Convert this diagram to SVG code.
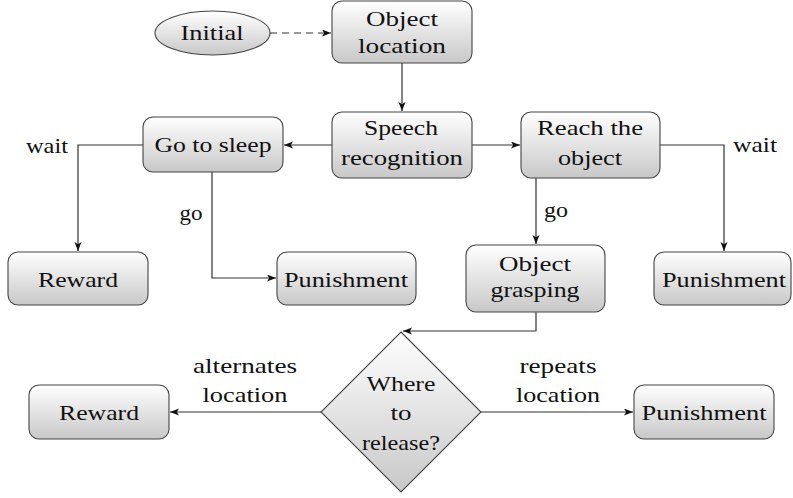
<svg xmlns="http://www.w3.org/2000/svg" width="793" height="498" viewBox="0 0 793 498">
<defs>
<linearGradient id="g" x1="0" y1="0" x2="0" y2="1">
<stop offset="0" stop-color="#ffffff"/>
<stop offset="1" stop-color="#c8c8c8"/>
</linearGradient>
<marker id="arr" markerWidth="10" markerHeight="8" refX="9" refY="3.5" orient="auto" markerUnits="userSpaceOnUse">
<path d="M0,0 L9,3.5 L0,7 L2.2,3.5 z" fill="#111"/>
</marker>
</defs>
<style>
.box{fill:url(#g);stroke:#444;stroke-width:1.1}
.t{font-family:'Liberation Serif','DejaVu Serif','Times New Roman',serif;font-size:21px;fill:#111;text-anchor:middle}
.c{fill:none;stroke:#333;stroke-width:1.2;marker-end:url(#arr)}
</style>
<g id="connectors">
<path class="c" d="M270,33 H331" stroke-dasharray="7,5"/>
<path class="c" d="M402,63 V111"/>
<path class="c" d="M332,145 H284"/>
<path class="c" d="M472,145 H520"/>
<path class="c" d="M143,145 H78 V251"/>
<path class="c" d="M212,172 V278 H276"/>
<path class="c" d="M536,178 V244"/>
<path class="c" d="M660,145 H724 V251"/>
<path class="c" d="M536,312 V331 H403"/>
<path class="c" d="M321,412 H170"/>
<path class="c" d="M481,412 H633"/>
<text class="t" x="47" y="153" textLength="42" lengthAdjust="spacingAndGlyphs">wait</text>
<text class="t" x="191" y="220" textLength="23" lengthAdjust="spacingAndGlyphs">go</text>
<text class="t" x="556" y="217" textLength="24" lengthAdjust="spacingAndGlyphs">go</text>
<text class="t" x="755" y="152" textLength="44" lengthAdjust="spacingAndGlyphs">wait</text>
<text class="t" x="245" y="373" textLength="104" lengthAdjust="spacingAndGlyphs">alternates</text>
<text class="t" x="245" y="402" textLength="85" lengthAdjust="spacingAndGlyphs">location</text>
<text class="t" x="558" y="373" textLength="77" lengthAdjust="spacingAndGlyphs">repeats</text>
<text class="t" x="558" y="402" textLength="84" lengthAdjust="spacingAndGlyphs">location</text>
</g>
<g id="initial">
<ellipse class="box" cx="212.5" cy="33" rx="57.5" ry="22"/>
<text class="t" x="212" y="40" textLength="63" lengthAdjust="spacingAndGlyphs">Initial</text>
</g>
<g id="object-location">
<rect class="box" x="332" y="1" width="140" height="62" rx="10"/>
<text class="t" x="402" y="26" textLength="72" lengthAdjust="spacingAndGlyphs">Object</text>
<text class="t" x="402" y="53" textLength="88" lengthAdjust="spacingAndGlyphs">location</text>
</g>
<g id="speech">
<rect class="box" x="332" y="112" width="140" height="66" rx="10"/>
<text class="t" x="401" y="135" textLength="74" lengthAdjust="spacingAndGlyphs">Speech</text>
<text class="t" x="402" y="165" textLength="122" lengthAdjust="spacingAndGlyphs">recognition</text>
</g>
<g id="reach">
<rect class="box" x="521" y="112" width="139" height="66" rx="10"/>
<text class="t" x="590" y="135" textLength="106" lengthAdjust="spacingAndGlyphs">Reach the</text>
<text class="t" x="590" y="165" textLength="64" lengthAdjust="spacingAndGlyphs">object</text>
</g>
<g id="sleep">
<rect class="box" x="143" y="117" width="140" height="55" rx="10"/>
<text class="t" x="213" y="152" textLength="117" lengthAdjust="spacingAndGlyphs">Go to sleep</text>
</g>
<g id="reward-top">
<rect class="box" x="8" y="252" width="140" height="53" rx="10"/>
<text class="t" x="78" y="287" textLength="80" lengthAdjust="spacingAndGlyphs">Reward</text>
</g>
<g id="punishment-mid">
<rect class="box" x="277" y="252" width="139" height="53" rx="10"/>
<text class="t" x="346" y="287" textLength="124" lengthAdjust="spacingAndGlyphs">Punishment</text>
</g>
<g id="grasping">
<rect class="box" x="466" y="245" width="139" height="67" rx="10"/>
<text class="t" x="535" y="271" textLength="72" lengthAdjust="spacingAndGlyphs">Object</text>
<text class="t" x="535" y="297" textLength="89" lengthAdjust="spacingAndGlyphs">grasping</text>
</g>
<g id="punishment-right">
<rect class="box" x="654" y="252" width="137" height="53" rx="10"/>
<text class="t" x="724" y="287" textLength="124" lengthAdjust="spacingAndGlyphs">Punishment</text>
</g>
<g id="decision">
<polygon class="box" points="401,332 481,412 401,492 321,412"/>
<text class="t" x="401" y="391" textLength="69" lengthAdjust="spacingAndGlyphs">Where</text>
<text class="t" x="401" y="420" textLength="21" lengthAdjust="spacingAndGlyphs">to</text>
<text class="t" x="401" y="450" textLength="78" lengthAdjust="spacingAndGlyphs">release?</text>
</g>
<g id="reward-bottom">
<rect class="box" x="29" y="385" width="140" height="54" rx="10"/>
<text class="t" x="99" y="420" textLength="80" lengthAdjust="spacingAndGlyphs">Reward</text>
</g>
<g id="punishment-bottom">
<rect class="box" x="634" y="385" width="140" height="54" rx="10"/>
<text class="t" x="704" y="420" textLength="125" lengthAdjust="spacingAndGlyphs">Punishment</text>
</g>
</svg>
